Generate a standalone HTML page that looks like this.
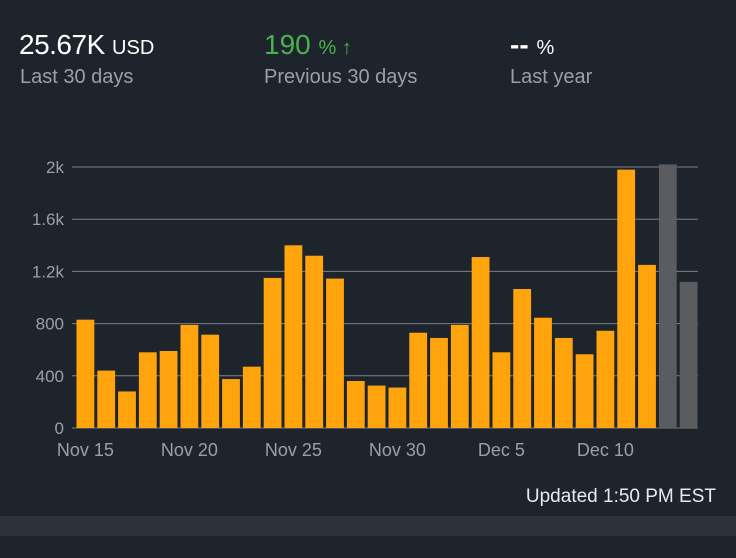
<!DOCTYPE html>
<html><head><meta charset="utf-8"><style>
html,body{margin:0;padding:0;width:736px;height:558px;background:#1e242b;overflow:hidden;font-family:"Liberation Sans",sans-serif}
.t{position:absolute;white-space:nowrap}
</style></head><body>
<div class="t" style="left:19px;top:29px;color:#fff;font-size:28px;letter-spacing:-0.5px">25.67K <span style="font-size:20px;letter-spacing:0">USD</span></div>
<div class="t" style="left:20px;top:66px;color:#9aa0a6;font-size:20px">Last 30 days</div>
<div class="t" style="left:264px;top:29px;color:#4caf50;font-size:28px">190 <span style="font-size:20px">% ↑</span></div>
<div class="t" style="left:264px;top:66px;color:#9aa0a6;font-size:20px">Previous 30 days</div>
<div class="t" style="left:510px;top:29px;color:#fff;font-size:28px;font-weight:bold">-- <span style="font-size:20px;font-weight:normal">%</span></div>
<div class="t" style="left:510px;top:66px;color:#9aa0a6;font-size:20px">Last year</div>
<svg id="c" width="736" height="470" style="position:absolute;left:0;top:0"></svg>
<div class="t" style="right:20px;top:486px;color:#e8eaed;font-size:19px">Updated 1:50 PM EST</div>
<div style="position:absolute;left:0;top:516px;width:736px;height:20px;background:#2c3238"></div>
<script>
const values=[830,440,280,580,590,790,715,375,470,1150,1400,1320,1145,360,325,310,730,690,790,1310,580,1065,845,690,565,745,1980,1250,2020,1120];
const projected=[false,false,false,false,false,false,false,false,false,false,false,false,false,false,false,false,false,false,false,false,false,false,false,false,false,false,false,false,true,true];
const yTicks=[0,400,800,1200,1600,2000];
const yTickLabels=["0","400","800","1.2k","1.6k","2k"];
const xLabels=["Nov 15","Nov 20","Nov 25","Nov 30","Dec 5","Dec 10"];
const xLabelIdx=[0,5,10,15,20,25];
const svg=document.getElementById('c');const NS='http://www.w3.org/2000/svg';
const x0=75,slot=20.8,y0=428,yTop=167,maxV=2000;
const y=v=>y0-(v/maxV)*(y0-yTop);
const x=i=>x0+i*slot;
function mk(t,a){const e=document.createElementNS(NS,t);for(const k in a)e.setAttribute(k,a[k]);svg.appendChild(e);return e;}
yTicks.forEach((v,i)=>{
 const l=mk('line',{x1:72,x2:698,y1:y(v),y2:y(v),stroke:'#7a8088','stroke-width':1});
 
 
 const t=mk('text',{x:64,y:y(v)+6,'text-anchor':'end',fill:'#9aa0a6','font-size':17,'font-family':'Liberation Sans'});
 t.textContent=yTickLabels[i];
 
 
});
values.forEach((v,i)=>{
 const r=mk('rect',{x:x(i)+1.5,y:y(v),width:slot-3,height:y0-y(v),fill:projected[i]?'#5a5c60':'#ffa40d'});
 
 
});
xLabels.forEach((s,i)=>{
 const t=mk('text',{x:x(xLabelIdx[i])+slot/2,y:456,'text-anchor':'middle',fill:'#9aa0a6','font-size':18,'font-family':'Liberation Sans'});
 t.textContent=s;
 
 
});
</script>
</body></html>
